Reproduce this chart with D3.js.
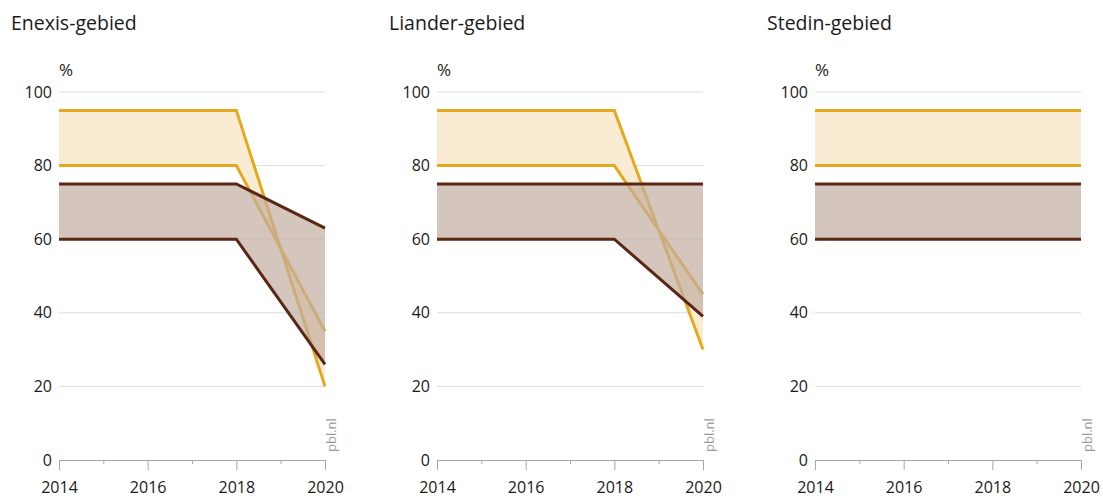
<!DOCTYPE html>
<html>
<head>
<meta charset="utf-8">
<script src="https://cdn.jsdelivr.net/npm/d3@7"></script>
<style>
  body { margin: 0; background: #fff; }
  svg { font-family: "Open Sans", sans-serif; }
</style>
</head>
<body>
<div id="plot"></div>
<script>
// chart data
const panelTitles = ["Enexis-gebied", "Liander-gebied", "Stedin-gebied"];
const years = [2014, 2018, 2020];
const yellowHigh = [[95, 95, 20], [95, 95, 30], [95, 95, 95]];
const yellowLow = [[80, 80, 35], [80, 80, 45], [80, 80, 80]];
const brownHigh = [[75, 75, 63], [75, 75, 75], [75, 75, 75]];
const brownLow = [[60, 60, 26], [60, 60, 39], [60, 60, 60]];
const yTicks = [0, 20, 40, 60, 80, 100];
const xTicks = [2014, 2015, 2016, 2017, 2018, 2019, 2020];

const W = 1103, H = 498;
const panelStep = 378;
const margin = { left: 59, top: 92 };
const width = 266;
const height = 368;

const svg = d3.select("#plot")
  .append("svg")
  .attr("width", W)
  .attr("height", H);

const x = d3.scaleLinear().domain([2014, 2020]).range([0, width]);
const y = d3.scaleLinear().domain([0, 100]).range([height, 0]);

const area = d3.area()
  .x(d => x(d.year))
  .y0(d => y(d.low))
  .y1(d => y(d.high));

const line = d3.line()
  .x(d => x(d.year))
  .y(d => y(d.v));

panelTitles.forEach((title, i) => {
  const g = svg.append("g")
    .attr("transform", `translate(${margin.left + i * panelStep},${margin.top})`);

  // title and unit
  svg.append("text")
    .attr("x", 11 + i * panelStep)
    .attr("y", 30)
    .style("font-size", "19.5px")
    .attr("fill", "#1a1a1a")
    .text(title);

  g.append("text")
    .attr("x", 0)
    .attr("y", -16)
    .style("font-size", "17px")
    .attr("fill", "#1a1a1a")
    .text("%");

  // gridlines
  g.selectAll(".grid")
    .data(yTicks.filter(t => t > 0))
    .enter()
    .append("line")
    .attr("x1", 0)
    .attr("x2", width)
    .attr("y1", d => y(d))
    .attr("y2", d => y(d))
    .attr("stroke", "#dcdcdc")
    .attr("stroke-width", 1);

  // y labels
  const yAxis = g.append("g")
    .call(d3.axisLeft(y).tickValues(yTicks).tickSize(0).tickPadding(7));
  yAxis.select(".domain").remove();
  yAxis.selectAll("text")
    .style("font-size", "16px")
    .style("font-family", "'Open Sans', sans-serif")
    .attr("fill", "#1a1a1a");

  // x axis
  const xAxis = g.append("g")
    .attr("transform", `translate(0,${height})`)
    .call(d3.axisBottom(x)
      .tickValues(xTicks)
      .tickSizeInner(10)
      .tickSizeOuter(0)
      .tickPadding(12)
      .tickFormat(d => d % 2 === 0 ? d : ""));
  xAxis.select(".domain").attr("stroke", "#a6a6a6");
  xAxis.selectAll(".tick line")
    .attr("stroke", "#a6a6a6")
    .attr("y2", d => d % 2 === 0 ? 10 : 4);
  xAxis.selectAll("text")
    .style("font-size", "16px")
    .style("font-family", "'Open Sans', sans-serif")
    .attr("fill", "#1a1a1a");

  const yellowBand = years.map((yr, j) => ({ year: yr, high: yellowHigh[i][j], low: yellowLow[i][j] }));
  const brownBand = years.map((yr, j) => ({ year: yr, high: brownHigh[i][j], low: brownLow[i][j] }));

  // yellow band
  g.append("path")
    .datum(yellowBand)
    .attr("d", area)
    .attr("fill", "#faebd3");
  [yellowHigh[i], yellowLow[i]].forEach(vals => {
    g.append("path")
      .datum(years.map((yr, j) => ({ year: yr, v: vals[j] })))
      .attr("d", line)
      .attr("fill", "none")
      .attr("stroke", "#e5a91f")
      .attr("stroke-width", 3);
  });

  // brown band, laid over the yellow one
  g.append("path")
    .datum(brownBand)
    .attr("d", area)
    .attr("fill", "rgb(194,174,159)")
    .attr("fill-opacity", 0.7);
  [brownHigh[i], brownLow[i]].forEach(vals => {
    g.append("path")
      .datum(years.map((yr, j) => ({ year: yr, v: vals[j] })))
      .attr("d", line)
      .attr("fill", "none")
      .attr("stroke", "#5a2616")
      .attr("stroke-width", 3);
  });

  // source label
  g.append("text")
    .attr("transform", `translate(${width + 11},${height - 8}) rotate(-90)`)
    .style("font-size", "13px")
    .attr("fill", "#9a9a9a")
    .text("pbl.nl");
});
</script>
</body>
</html>
